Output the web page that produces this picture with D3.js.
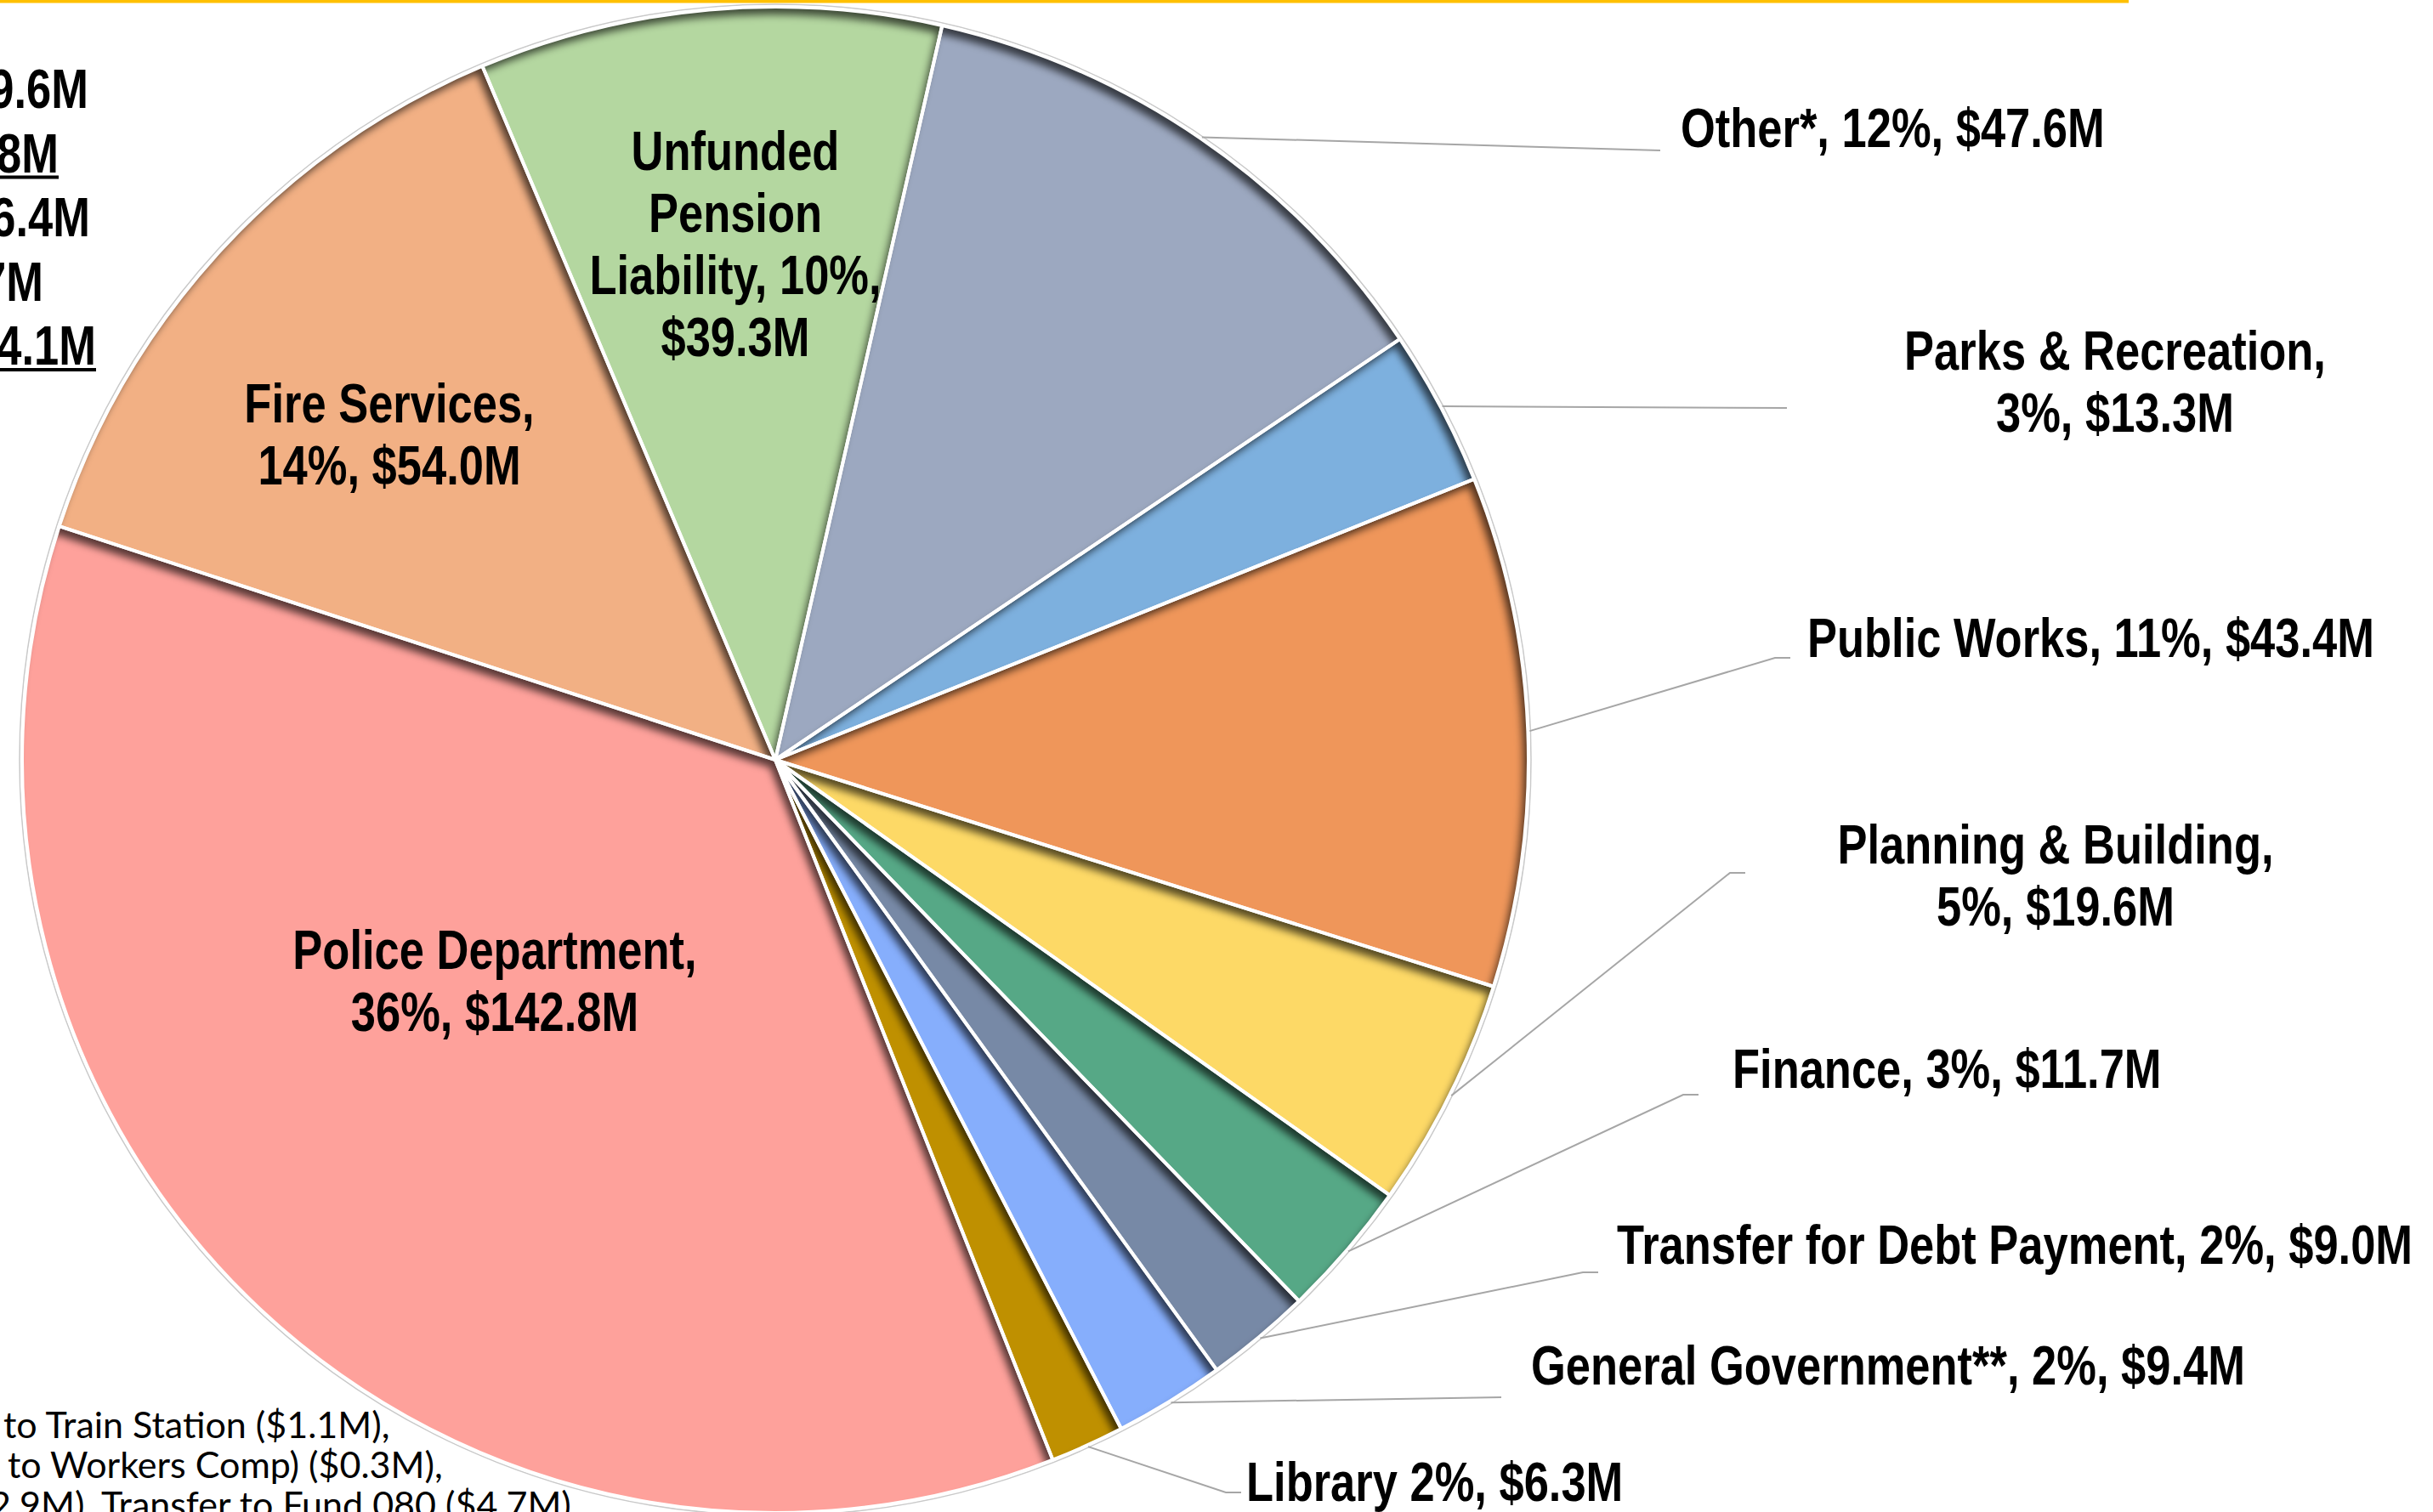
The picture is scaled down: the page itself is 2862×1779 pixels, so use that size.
<!DOCTYPE html>
<html>
<head>
<meta charset="utf-8">
<script src="https://cdn.jsdelivr.net/npm/d3@7"></script>
<style>
	body { margin: 0; background: #fff; }
	svg { display: block; }
</style>
</head>
<body>
<svg id="chart"></svg>
<script>
//=================== DATA ====================================
var categories = ["Other*", "Parks & Recreation", "Public Works", "Planning & Building", "Finance",
	"Transfer for Debt Payment", "General Government**", "Library", "Police Department",
	"Fire Services", "Unfunded Pension Liability"];
var amounts  = [47.6, 13.3, 43.4, 19.6, 11.7, 9.0, 9.4, 6.3, 142.8, 54.0, 39.3];   // $M
var percents = [12, 3, 11, 5, 3, 2, 2, 2, 36, 14, 10];
var labelText = [
	["Other*, 12%, $47.6M"],
	["Parks & Recreation,", "3%, $13.3M"],
	["Public Works, 11%, $43.4M"],
	["Planning & Building,", "5%, $19.6M"],
	["Finance, 3%, $11.7M"],
	["Transfer for Debt Payment, 2%, $9.0M"],
	["General Government**, 2%, $9.4M"],
	["Library 2%, $6.3M"],
	["Police Department,", "36%, $142.8M"],
	["Fire Services,", "14%, $54.0M"],
	["Unfunded", "Pension", "Liability, 10%,", "$39.3M"]
];
var sliceColours = ["#9CA8C0", "#7DB0DE", "#EF965A", "#FDD966", "#56A886", "#7789A6",
	"#86AEFC", "#BF9000", "#FEA19B", "#F2B084", "#B4D7A0"];

// text cut off by the left edge of the slide
var sideFragments = ["9.6M", "8M", "6.4M", "7M", "4.1M"];
var sideUnderlined = [false, true, false, false, true];
var footnoteLines = ["to Train Station ($1.1M),", "to Workers Comp) ($0.3M),", "2.9M), Transfer to Fund 080 ($4.7M),"];

//=================== LAYOUT ====================================
var svgWidth = 2862, svgHeight = 1779;
var cx = 912, cy = 894, radius = 886;
var firstSliceAngle = 12.8 * Math.PI / 180;
var narrow = 0.82;        // Arial Narrow look: squeeze Arial bold
var labelSize = 64;
var lineGap = 73;

// label placement: inside labels have only x,y ; outside ones have a leader elbow/end
var labelLayout = [
	{x: 1977, y: 173, anchor: "start",  end: [1953, 177]},
	{x: 2488, y: 435, anchor: "middle", end: [2102, 480]},
	{x: 2126, y: 773, anchor: "start",  elbow: [2088, 774], end: [2106, 774]},
	{x: 2418, y: 1016, anchor: "middle", elbow: [2035, 1027], end: [2053, 1027]},
	{x: 2038, y: 1280, anchor: "start", elbow: [1980, 1288], end: [1998, 1288]},
	{x: 1902, y: 1487, anchor: "start", elbow: [1862, 1497], end: [1880, 1497]},
	{x: 1801, y: 1629, anchor: "start", end: [1766, 1644]},
	{x: 1466, y: 1766, anchor: "start", elbow: [1442, 1756], end: [1460, 1756]},
	{x: 582, y: 1140, anchor: "middle"},
	{x: 458, y: 497, anchor: "middle"},
	{x: 865, y: 200, anchor: "middle"}
];

var dataset = categories.map(function (c, i) {
	return {key: c, amount: amounts[i], pct: percents[i], colour: sliceColours[i], lines: labelText[i], layout: labelLayout[i]};
});

var svg = d3.select("#chart")
	.attr("width", svgWidth)
	.attr("height", svgHeight)
	.attr("viewBox", [0, 0, svgWidth, svgHeight]);

//inset shadow: black outside the slice, shifted down-left, blurred, kept only over the slice
var defs = svg.append("defs");
var f = defs.append("filter").attr("id", "innerShadow")
	.attr("x", "-15%").attr("y", "-15%").attr("width", "130%").attr("height", "130%")
	.attr("color-interpolation-filters", "sRGB");
f.append("feFlood").attr("flood-color", "#000").attr("flood-opacity", 0.65).attr("result", "ink");
f.append("feComposite").attr("in", "ink").attr("in2", "SourceGraphic").attr("operator", "out").attr("result", "outside");
f.append("feOffset").attr("in", "outside").attr("dx", -6).attr("dy", 9).attr("result", "moved");
f.append("feGaussianBlur").attr("in", "moved").attr("stdDeviation", 5).attr("result", "soft");
f.append("feComposite").attr("in", "soft").attr("in2", "SourceGraphic").attr("operator", "atop");

//gold rule at top
svg.append("line")
	.attr("x1", 0).attr("x2", 2504)
	.attr("y1", 1.5).attr("y2", 1.5)
	.attr("stroke", "#FFC000").attr("stroke-width", 4);

//=================== PIE ====================================
var pieLayout = d3.pie()
	.value(function (d) { return d.amount; })
	.sort(null)
	.startAngle(firstSliceAngle)
	.endAngle(firstSliceAngle + 2 * Math.PI)
	(dataset);

var arcShapeGenerator = d3.arc()
	.innerRadius(0)
	.outerRadius(radius);

var grp = svg.append("g").attr("transform", "translate(" + [cx, cy] + ")");

// faint outline round the whole pie
grp.append("circle")
	.attr("r", radius + 3)
	.attr("fill", "none")
	.attr("stroke", "#c9c9c9")
	.attr("stroke-width", 1.5);

// white gaps drawn separately so the shadow sits inside the coloured fill
grp.selectAll("path.slice")
	.data(pieLayout)
	.enter()
	.append("path")
	.attr("class", "slice")
	.attr("d", arcShapeGenerator)
	.style("fill", function (d) { return d.data.colour; })
	.attr("filter", "url(#innerShadow)");

grp.selectAll("path.gap")
	.data(pieLayout)
	.enter()
	.append("path")
	.attr("class", "gap")
	.attr("d", arcShapeGenerator)
	.style("fill", "none")
	.style("stroke", "#fff")
	.style("stroke-width", 4)
	.style("stroke-linejoin", "round");

//=================== LEADER LINES ====================================
function arcPoint(d, r) {
	var a = (d.startAngle + d.endAngle) / 2;
	return [cx + r * Math.sin(a), cy - r * Math.cos(a)];
}

svg.selectAll("polyline.leader")
	.data(pieLayout.filter(function (d) { return d.data.layout.end; }))
	.enter()
	.append("polyline")
	.attr("class", "leader")
	.attr("points", function (d) {
		var pts = [arcPoint(d, radius + 2)];
		if (d.data.layout.elbow) pts.push(d.data.layout.elbow);
		pts.push(d.data.layout.end);
		return pts.map(function (p) { return p.join(","); }).join(" ");
	})
	.attr("fill", "none")
	.attr("stroke", "#a6a6a6")
	.attr("stroke-width", 2);

//=================== LABELS ====================================
var labels = svg.selectAll("g.label")
	.data(pieLayout)
	.enter()
	.append("g")
	.attr("class", "label");

labels.each(function (d) {
	var g = d3.select(this);
	var lay = d.data.layout;
	d.data.lines.forEach(function (line, k) {
		g.append("text")
			.attr("transform", "translate(" + [lay.x, lay.y + k * lineGap] + ") scale(" + narrow + ",1)")
			.attr("text-anchor", lay.anchor)
			.style("font-family", "'Liberation Sans', Arial, sans-serif")
			.style("font-weight", "bold")
			.style("font-size", labelSize + "px")
			.style("fill", "#000")
			.text(line);
	});
});

//=================== CUT-OFF TEXT ON LEFT ====================================
var sideRightEdge = [104, 69, 106, 51, 113];
var side = svg.append("g");
sideFragments.forEach(function (s, i) {
	var y = 127 + i * 75.5;
	side.append("text")
		.attr("transform", "translate(" + [sideRightEdge[i], y] + ") scale(" + narrow + ",1)")
		.attr("text-anchor", "end")
		.style("font-family", "'Liberation Sans', Arial, sans-serif")
		.style("font-weight", "bold")
		.style("font-size", labelSize + "px")
		.text(s);
	if (sideUnderlined[i]) {
		side.append("line")
			.attr("x1", 0).attr("x2", sideRightEdge[i])
			.attr("y1", y + 6).attr("y2", y + 6)
			.attr("stroke", "#000").attr("stroke-width", 4);
	}
});

var footX = [4, 9, -12];
footnoteLines.forEach(function (s, i) {
	svg.append("text")
		.attr("x", footX[i])
		.attr("y", 1692 + i * 47)
		.style("font-family", "Lato, 'Open Sans', sans-serif")
		.style("font-size", "43px")
		.style("fill", "#000")
		.text(s);
});
</script>
</body>
</html>
